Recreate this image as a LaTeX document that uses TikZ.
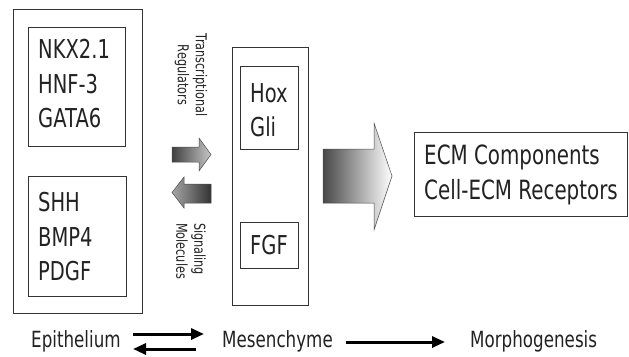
\documentclass[tikz,border=0pt]{standalone}
\usepackage{fontspec}
\setmainfont{DejaVu Sans}[FakeStretch=0.75]
\usetikzlibrary{arrows.meta}
\definecolor{ink}{HTML}{222222}
\tikzset{
  boxn/.style={draw=black!80, line width=0.8pt, rectangle, inner sep=0pt},
  bigtxt/.style={text=ink, font=\fontsize{26}{34.5}\selectfont, align=left, inner sep=0pt},
  ecmtxt/.style={text=ink, font=\fontsize{26.5}{35}\selectfont, align=left, inner sep=0pt},
  bottxt/.style={text=ink, font=\fontsize{22.3}{25}\selectfont, inner sep=0pt},
  smalltxt/.style={text=ink, font=\fontsize{15}{18}\selectfont, inner sep=0pt, rotate=-90},
  thickarr/.style={line width=3pt, -{Triangle[length=13pt,width=11pt]}},
  grayarr/.style={draw=black!70, line width=0.5pt}
}
\begin{document}
\begin{tikzpicture}[x=1pt,y=-1pt]
\useasboundingbox (0,0) rectangle (629,356);
% boxes
\node[boxn, minimum width=129pt, minimum height=304pt] (epi) at (77.5,161) {};
\node[boxn, minimum width=97pt, minimum height=119pt] (tf) at (76.5,86.5) {};
\node[boxn, minimum width=98pt, minimum height=120pt] (sig) at (77,236) {};
\node[boxn, minimum width=76pt, minimum height=258pt] (mes) at (270,176) {};
\node[boxn, minimum width=58pt, minimum height=83pt] (hox) at (269,107.5) {};
\node[boxn, minimum width=58pt, minimum height=46pt] (fgf) at (269,245) {};
\node[boxn, minimum width=213pt, minimum height=84pt] (ecm) at (520.5,174) {};
% texts
\node[bigtxt, anchor=west] (tftxt) at (38,84) {NKX2.1\\HNF-3\\GATA6};
\node[bigtxt, anchor=west] (sigtxt) at (38,237) {SHH\\BMP4\\PDGF};
\node[bigtxt, anchor=west] (hoxtxt) at (250,110) {Hox\\Gli};
\node[bigtxt] (fgftxt) at (269,245) {FGF};
\node[ecmtxt, anchor=west] (ecmtxt) at (424,175) {ECM Components\\Cell-ECM Receptors};
\node[smalltxt, align=center] (tr) at (191,75) {Transcriptional\\Regulators};
\node[smalltxt, align=left] (sm) at (191,251) {Signaling\\Molecules};
% gradient arrows
\shade[grayarr, left color=black!75, right color=black!22]
  (172,147) -- (199,147) -- (199,138) -- (211,154.5) -- (199,171) -- (199,162) -- (172,162) -- cycle;
\shade[grayarr, left color=black!35, right color=black!80]
  (211,184) -- (184,184) -- (184,177) -- (172,192.5) -- (184,208) -- (184,203) -- (211,203) -- cycle;
\shade[grayarr, left color=black!72, middle color=black!4, right color=white]
  (323,149) -- (374,149) -- (374,123) -- (392,176) -- (374,230) -- (374,203) -- (323,203) -- cycle;
% bottom labels
\node[bottxt, anchor=base west] (epil) at (31,347) {Epithelium};
\node[bottxt, anchor=base west] (mesl) at (222,347) {Mesenchyme};
\node[bottxt, anchor=base west] (morl) at (470,347) {Morphogenesis};
\coordinate (a1) at (133,334);
\coordinate (a2) at (204,334);
\coordinate (b1) at (196,349);
\coordinate (b2) at (133,349);
\coordinate (c1) at (346,342);
\coordinate (c2) at (445,342);
\draw[thickarr] (a1) -- (a2);
\draw[thickarr] (b1) -- (b2);
\draw[thickarr] (c1) -- (c2);
\end{tikzpicture}
\end{document}
